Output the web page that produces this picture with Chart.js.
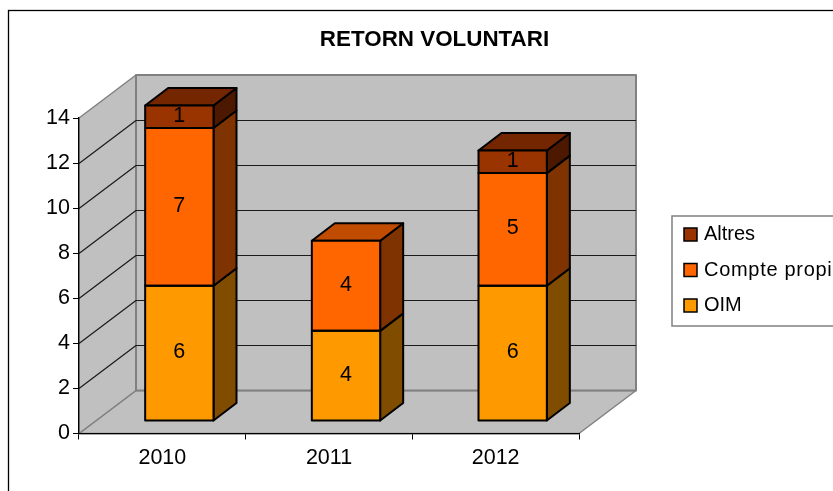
<!DOCTYPE html>
<html>
<head>
<meta charset="utf-8">
<script src="https://cdn.jsdelivr.net/npm/chart.js@4"></script>
<style>
  html, body { margin: 0; padding: 0; background: #fff; overflow: hidden; }
  canvas { display: block; }
</style>
</head>
<body>
<canvas id="chart" width="833" height="491"></canvas>
<script>
const categories = ["2010", "2011", "2012"];
const oim = [6, 4, 6];
const comptePropi = [7, 4, 5];
const altres = [1, null, 1];
const yMax = 14;
const yStep = 2;

const seriesNames = ["OIM", "Compte propi", "Altres"];
const frontColors = ["#FF9900", "#FF6600", "#993300"];
const sideColors = ["#7F4C00", "#7F3300", "#4C1900"];
const topColors = ["#BF7300", "#BF4C00", "#732600"];
// the reference legend text is hinted wider for this one label
const legendSpacing = ["0px", "0.7px", "0px"];

const fontName = "'Liberation Sans', Arial, sans-serif";
const wallDepth = { x: 57, y: -43 };
const barDepth = { x: 23, y: -17.5 };
const barShift = { x: 17, y: -12.5 };

function poly(ctx, pts, fill, stroke, lw) {
  ctx.beginPath();
  pts.forEach((p, i) => i ? ctx.lineTo(p[0], p[1]) : ctx.moveTo(p[0], p[1]));
  ctx.closePath();
  if (fill) { ctx.fillStyle = fill; ctx.fill(); }
  if (stroke) { ctx.strokeStyle = stroke; ctx.lineWidth = lw; ctx.lineJoin = "round"; ctx.stroke(); }
}

const box3d = {
  id: "box3d",
  afterLayout(chart) {
    // title sits over the plot + a bit of the legend, not over the whole canvas
    chart.titleBlock.left = 36;
    chart.titleBlock.right = 833;
  },
  beforeDraw(chart) {
    const ctx = chart.ctx;
    const a = chart.chartArea;
    const y = chart.scales.y;
    const dx = wallDepth.x, dy = wallDepth.y;
    ctx.save();
    // outer frame, runs off the right and bottom edge
    ctx.strokeStyle = "#000";
    ctx.lineWidth = 1.3;
    ctx.strokeRect(8.5, 10.5, 900, 600);

    // floor, left wall, back wall
    poly(ctx, [[a.left, a.bottom], [a.left + dx, a.bottom + dy], [a.right + dx, a.bottom + dy], [a.right, a.bottom]], "#C0C0C0", "#808080", 1.5);
    poly(ctx, [[a.left, a.top], [a.left + dx, a.top + dy], [a.left + dx, a.bottom + dy], [a.left, a.bottom]], "#C0C0C0", "#808080", 1.5);
    poly(ctx, [[a.left + dx, a.top + dy], [a.right + dx, a.top + dy], [a.right + dx, a.bottom + dy], [a.left + dx, a.bottom + dy]], "#C0C0C0", "#808080", 2);

    // gridlines wrap from the left wall onto the back wall
    ctx.strokeStyle = "#1a1a1a";
    ctx.lineWidth = 1.2;
    y.ticks.forEach(t => {
      if (t.value === 0 || t.value === yMax) return;
      const py = Math.round(y.getPixelForValue(t.value)) + 0.5;
      ctx.beginPath();
      ctx.moveTo(a.left, py);
      ctx.lineTo(a.left + dx, py + dy);
      ctx.lineTo(a.right + dx, py + dy);
      ctx.stroke();
    });
    ctx.restore();
  },
  beforeDatasetsDraw(chart) {
    const ctx = chart.ctx;
    ctx.save();
    ctx.translate(barShift.x, barShift.y);
    const dx = barDepth.x, dy = barDepth.y;
    chart.data.datasets.forEach((ds, i) => {
      chart.getDatasetMeta(i).data.forEach((bar, j) => {
        if (ds.data[j] === null) return;
        const l = bar.x - bar.width / 2, r = bar.x + bar.width / 2;
        poly(ctx, [[r, bar.y], [r + dx, bar.y + dy], [r + dx, bar.base + dy], [r, bar.base]], sideColors[i], "#000", 2);
        // only the top segment of a stack shows its lid
        const above = chart.data.datasets.slice(i + 1).some(d => d.data[j] !== null);
        if (!above) {
          poly(ctx, [[l, bar.y], [l + dx, bar.y + dy], [r + dx, bar.y + dy], [r, bar.y]], topColors[i], "#000", 2);
        }
      });
    });
  },
  afterDatasetsDraw(chart) {
    const ctx = chart.ctx;
    ctx.fillStyle = "#000";
    ctx.font = "21.5px " + fontName;
    ctx.textAlign = "center";
    ctx.textBaseline = "middle";
    chart.data.datasets.forEach((ds, i) => {
      chart.getDatasetMeta(i).data.forEach((bar, j) => {
        if (ds.data[j] === null) return;
        const l = bar.x - bar.width / 2, r = bar.x + bar.width / 2;
        // centred outline, chart.js would inset it and double the seams
        poly(ctx, [[l, bar.y], [r, bar.y], [r, bar.base], [l, bar.base]], null, "#000", 2);
        ctx.fillText(String(ds.data[j]), bar.x, (bar.y + bar.base) / 2 - 1);
      });
    });
    ctx.restore();
  },
  afterDraw(chart) {
    const ctx = chart.ctx;
    ctx.save();
    ctx.fillStyle = "#fff";
    ctx.strokeStyle = "#808080";
    ctx.lineWidth = 1.5;
    ctx.fillRect(672, 216, 200, 110);
    ctx.strokeRect(672, 216, 200, 110);
    ctx.font = "20px " + fontName;
    ctx.textAlign = "left";
    ctx.textBaseline = "middle";
    // legend reads top-down in reverse stacking order
    [2, 1, 0].forEach((s, k) => {
      const cy = 234.5 + k * 35.5;
      ctx.fillStyle = frontColors[s];
      ctx.fillRect(684, cy - 6.5, 13, 13);
      ctx.strokeStyle = "#000";
      ctx.lineWidth = 1.5;
      ctx.strokeRect(684, cy - 6.5, 13, 13);
      ctx.fillStyle = "#000";
      ctx.letterSpacing = legendSpacing[s];
      ctx.fillText(seriesNames[s], 704, cy);
    });
    ctx.restore();
  }
};

new Chart(document.getElementById("chart"), {
  type: "bar",
  data: {
    labels: categories,
    datasets: [oim, comptePropi, altres].map((values, i) => ({
      label: seriesNames[i],
      data: values,
      backgroundColor: frontColors[i],
      borderWidth: 0,
      barPercentage: 0.41,
      categoryPercentage: 1
    }))
  },
  plugins: [box3d],
  options: {
    responsive: false,
    animation: false,
    layout: { padding: { left: 0, top: 0, right: 254, bottom: 0 } },
    plugins: {
      legend: { display: false },
      tooltip: { enabled: false },
      title: {
        display: true,
        text: "RETORN VOLUNTARI",
        color: "#000",
        font: { family: fontName, size: 22.4, weight: "bold" },
        padding: { top: 26, bottom: 65.12 }
      }
    },
    scales: {
      x: {
        stacked: true,
        afterFit: s => { s.height = 57.5; },
        border: { color: "#000", width: 1.3 },
        grid: { drawOnChartArea: false, color: "#000", tickLength: 6, tickColor: "#000" },
        ticks: { color: "#000", padding: 6, maxRotation: 0, font: { family: fontName, size: 21.5 } }
      },
      y: {
        stacked: true,
        min: 0,
        max: yMax,
        afterFit: s => { s.width = 79; },
        border: { color: "#000", width: 1.3 },
        grid: { drawOnChartArea: false, color: "#000", tickLength: 6, tickColor: "#000" },
        ticks: { stepSize: yStep, color: "#000", padding: 3, font: { family: fontName, size: 21.5 } }
      }
    }
  }
});
</script>
</body>
</html>
